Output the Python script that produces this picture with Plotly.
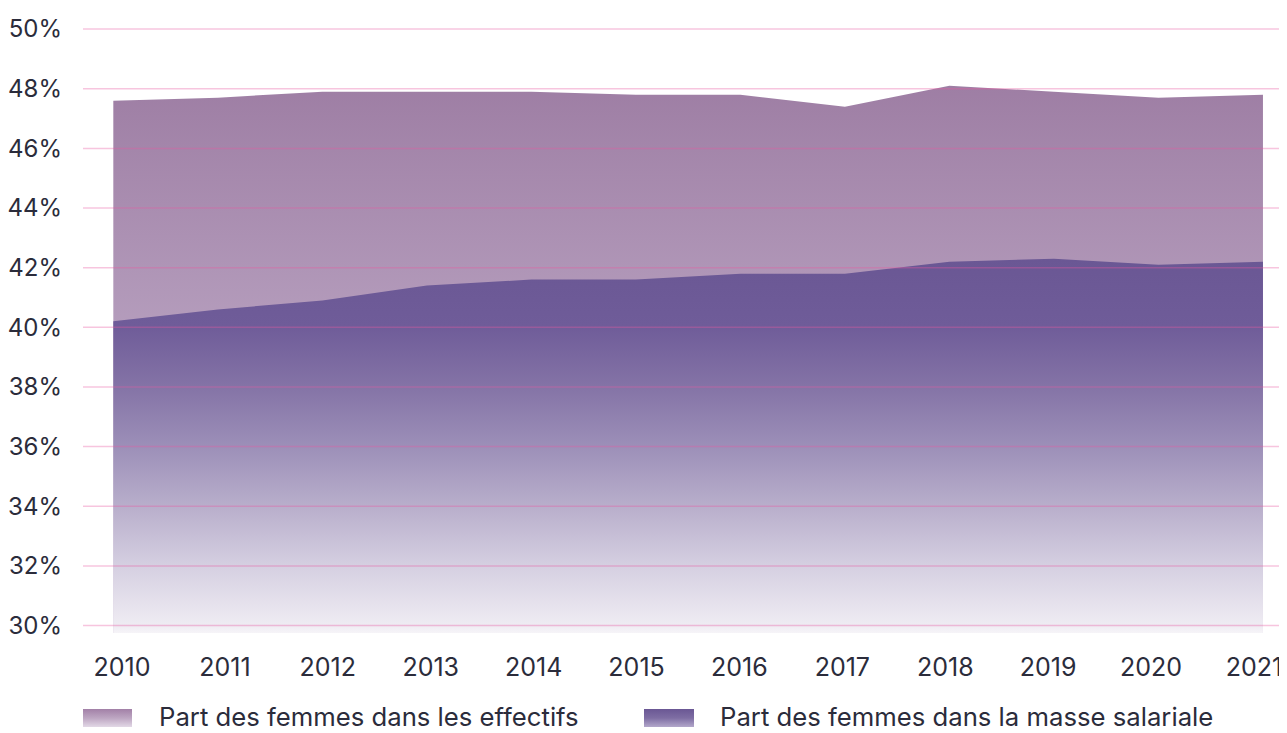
import plotly.graph_objects as go

# ---------------- data ----------------
years = [2010, 2011, 2012, 2013, 2014, 2015, 2016, 2017, 2018, 2019, 2020, 2021]
part_effectifs = [47.6, 47.7, 47.9, 47.9, 47.9, 47.8, 47.8, 47.4, 48.1, 47.9, 47.7, 47.8]
part_masse_salariale = [40.2, 40.6, 40.9, 41.4, 41.6, 41.6, 41.8, 41.8, 42.2, 42.3, 42.1, 42.2]
y_ticks = [30, 32, 34, 36, 38, 40, 42, 44, 46, 48, 50]
y_tick_labels = [f"{v}%" for v in y_ticks]
year_labels = [str(y) for y in years]
series_names = ["Part des femmes dans les effectifs", "Part des femmes dans la masse salariale"]

# ---------------- style / layout (page pixels; page has an 8px body margin) ----------------
FONT = "Inter"
TEXT = "#2b2c3b"
GRID = "rgba(232,90,160,0.35)"
OFF = 8
PAGE_W, PAGE_H = 1287, 733
W, H = PAGE_W - OFF, PAGE_H - OFF
M_L, M_R, M_T, M_B = 83 - OFF, 0, 27 - OFF, 0
PLOT_BOTTOM_PAGE = 633
main_dom_bottom = (PAGE_H - PLOT_BOTTOM_PAGE) / (H - M_T - M_B)

upper_scale = [[0.0, "#d6c9dd"], [0.5, "#b7a0bf"], [1.0, "#9e7ea4"]]
lower_scale = [[0.0, "#f6f4f8"], [0.02, "#efecf3"], [0.18, "#d5cfe1"], [0.34, "#b8aecb"],
               [0.5, "#9c8fb8"], [0.66, "#8473a6"], [0.82, "#6f5c99"], [1.0, "#6a5794"]]

fig = go.Figure()

fig.add_trace(go.Scatter(
    x=years, y=part_effectifs, name=series_names[0], mode="lines",
    line=dict(width=0, color="#9e7ea4"), fill="tozeroy",
    fillgradient=dict(type="vertical", colorscale=upper_scale, start=30, stop=48.1),
    showlegend=False, hoverinfo="skip",
))
fig.add_trace(go.Scatter(
    x=years, y=part_masse_salariale, name=series_names[1], mode="lines",
    line=dict(width=0, color="#6a5794"), fill="tozeroy",
    fillgradient=dict(type="vertical", colorscale=lower_scale, start=29.75, stop=42.3),
    showlegend=False, hoverinfo="skip",
))

# ---------------- custom legend (helper axes in page-pixel units) ----------------
legend_items = [
    dict(x0=83, x1=132, tx=157, scale=[[0.0, "#e2d8e6"], [0.5, "#bda6c2"], [1.0, "#a280a7"]]),
    dict(x0=644, x1=694, tx=718, scale=[[0.0, "#b3a8cb"], [0.5, "#7e6da3"], [1.0, "#6a5794"]]),
]
sw_top, sw_bot, txt_y = 709, 727, 716
for item, name in zip(legend_items, series_names):
    fig.add_trace(go.Scatter(
        x=[item["x0"], item["x1"], item["x1"], item["x0"], item["x0"]],
        y=[sw_top, sw_top, sw_bot, sw_bot, sw_top],
        xaxis="x2", yaxis="y2", mode="lines", line=dict(width=0),
        fill="toself",
        fillgradient=dict(type="vertical", colorscale=item["scale"], start=sw_bot, stop=sw_top),
        showlegend=False, hoverinfo="skip",
    ))
    fig.add_annotation(
        x=item["tx"], y=txt_y, xref="x2", yref="y2", text=name, showarrow=False,
        xanchor="left", yanchor="middle", font=dict(family=FONT, size=25.7, color=TEXT),
    )

# year labels axis (labels are spaced slightly tighter than the data points)
fig.add_trace(go.Scatter(x=years, y=[None] * len(years), xaxis="x3", yaxis="y",
                         showlegend=False, hoverinfo="skip"))

# gridlines above the areas
for v in y_ticks:
    fig.add_shape(type="line", xref="paper", x0=0, x1=1, yref="y", y0=v, y1=v,
                  line=dict(color=GRID, width=1.5), layer="above")

fig.update_layout(
    width=W, height=H,
    margin=dict(l=M_L, r=M_R, t=M_T, b=M_B),
    paper_bgcolor="white", plot_bgcolor="white",
    showlegend=False,
    font=dict(family=FONT, color=TEXT, size=24),
    xaxis=dict(
        range=[2009.71, 2021.23], showticklabels=False, showgrid=False, zeroline=False,
        showline=False, ticks="", automargin=False,
    ),
    xaxis3=dict(
        overlaying="x", anchor="y", side="bottom",
        range=[2009.621, 2021.3207], tickmode="array", tickvals=years, ticktext=year_labels,
        showgrid=False, zeroline=False, showline=False, ticks="",
        ticklabelstandoff=17, ticklabeloverflow="allow", automargin=False,
        tickfont=dict(family=FONT, size=25, color=TEXT),
    ),
    yaxis=dict(
        domain=[main_dom_bottom, 1], range=[29.75, 50.07], tickmode="array",
        tickvals=y_ticks, ticktext=y_tick_labels, showgrid=False, zeroline=False,
        showline=False, ticks="", ticklabelstandoff=20, automargin=False,
        tickfont=dict(family=FONT, size=24, color=TEXT),
    ),
    xaxis2=dict(domain=[0, 1], range=[83, PAGE_W], anchor="y2", visible=False, fixedrange=True),
    yaxis2=dict(domain=[0, main_dom_bottom], range=[PAGE_H, PLOT_BOTTOM_PAGE], anchor="x2",
                visible=False, fixedrange=True),
)

fig.write_html("out.html")
